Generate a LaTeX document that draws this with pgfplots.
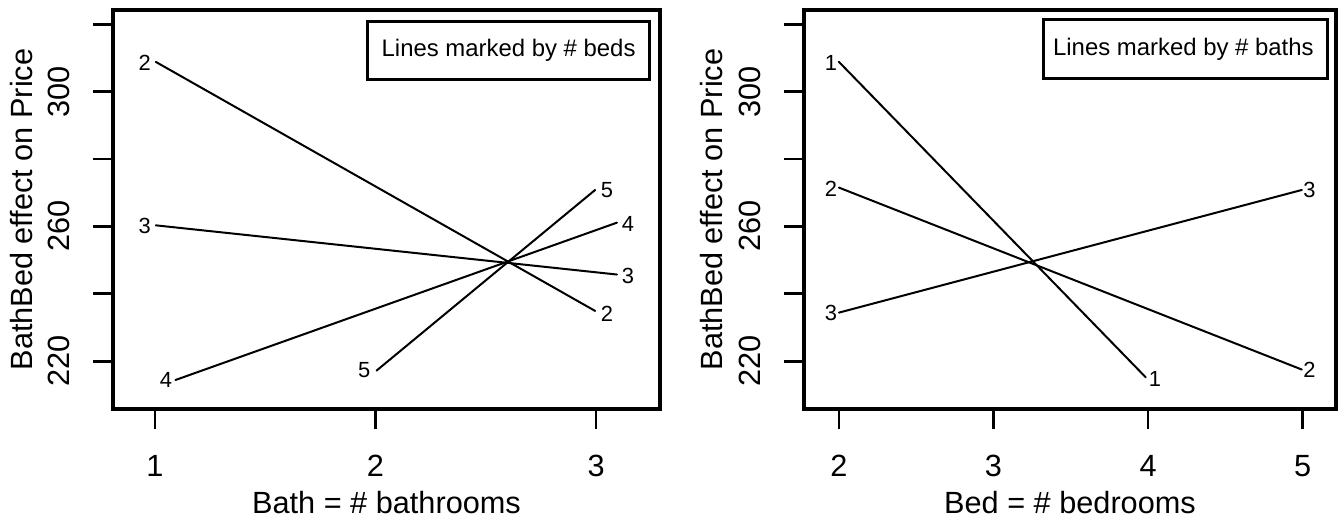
\documentclass[border=0pt]{standalone}
\usepackage{fontspec}
\setmainfont{Liberation Sans}
\usepackage{pgfplots}
\pgfplotsset{compat=1.18}
\usepackage{pgfplotstable}

% labels at the ends of the lines
\pgfplotstableread{
x     y     lab
0.954 308.4 2
0.954 260.1 3
1.050 214.3 4
1.949 217.5 5
3.050 270.8 5
3.145 260.6 4
3.145 245.4 3
3.050 234.1 2
}\bedlabs
\pgfplotstableread{
x     y     lab
1.948 308.6 1
1.948 271.2 2
1.948 234.4 3
4.045 214.6 1
5.044 217.5 2
5.044 270.8 3
}\bathlabs

\pgfplotsset{
  rplot/.style={
    scale only axis, height=199.5bp,
    ymin=205.8, ymax=324.2,
    axis line style={line width=1.6bp},
    tick align=outside, tick pos=left,
    major tick length=10bp,
    tick style={line width=1.4bp, black},
    ytick={220,240,...,320},
    yticklabels={220,{},260,{},300,{}},
    tick label style={font=\fontsize{15.4}{18}\selectfont, inner sep=0pt},
    xticklabel style={anchor=north},
    yticklabel style={rotate=90, anchor=south},
    xticklabel shift=13bp, yticklabel shift=11.5bp,
    label style={font=\fontsize{15.4}{18}\selectfont, inner sep=0pt},
    ylabel={BathBed effect on Price},
    xlabel style={at={(axis description cs:0.5,-0.2607)}, anchor=base},
  },
  rl/.style={black, solid, mark=none, line width=1bp, line cap=round},
  ptlab/.style={draw=none, mark=none, nodes near coords,
    point meta=explicit symbolic,
    every node near coord/.append style={anchor=center, inner sep=0pt,
      text=black, font=\fontsize{11}{13}\selectfont}},
}

\begin{document}
\begin{tikzpicture}
\path[use as bounding box] (-56.5bp,-54.5bp) rectangle (613bp,204.5bp);

\begin{axis}[rplot, at={(0,0)}, anchor=south west, width=273.5bp,
    xmin=0.81, xmax=3.29, xtick={1,2,3}, xticklabels={1,2,3},
    xlabel={Bath = \# bathrooms},
    ylabel style={at={(axis description cs:-0.1463,0.5)}, anchor=base}]
  \addplot[rl] coordinates {(1.004,308.8) (2.996,234.9)};
  \addplot[rl] coordinates {(1.004,260.3) (3.095,245.7)};
  \addplot[rl] coordinates {(1.093,214.4) (3.095,261.1)};
  \addplot[rl] coordinates {(2.005,217.2) (2.996,270.8)};
  \addplot[ptlab] table[x=x, y=y, meta=lab] {\bedlabs};
  \draw[line width=1.5bp] (rel axis cs:0.4644,0.8246) rectangle (rel axis cs:0.9817,0.9724);
  \node[anchor=east, inner sep=0pt, font=\fontsize{12}{14}\selectfont]
    at (rel axis cs:0.956,0.8997) {Lines marked by \# beds};
\end{axis}

\begin{axis}[rplot, at={(345.5bp,0)}, anchor=south west, width=266bp,
    xmin=1.774, xmax=5.216, xtick={2,3,4,5}, xticklabels={2,3,4,5},
    xlabel={Bed = \# bedrooms},
    ylabel style={at={(axis description cs:-0.1523,0.5)}, anchor=base}]
  \addplot[rl] coordinates {(2.0,308.8) (3.985,215.2)};
  \addplot[rl] coordinates {(2.0,271.5) (4.995,217.5)};
  \addplot[rl] coordinates {(2.0,234.4) (4.995,270.8)};
  \addplot[ptlab] table[x=x, y=y, meta=lab] {\bathlabs};
  \draw[line width=1.5bp] (rel axis cs:0.4511,0.8271) rectangle (rel axis cs:0.9831,0.9774);
  \node[anchor=east, inner sep=0pt, font=\fontsize{12}{14}\selectfont]
    at (rel axis cs:0.9587,0.9023) {Lines marked by \# baths};
\end{axis}
\end{tikzpicture}
\end{document}
